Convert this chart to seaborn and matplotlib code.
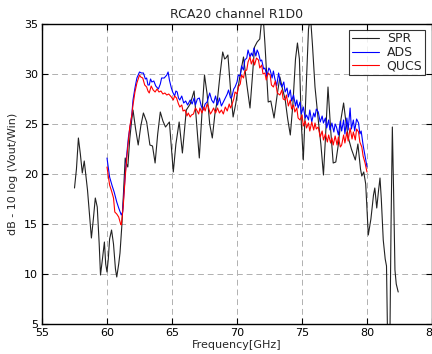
import matplotlib
matplotlib.use("Agg")
import matplotlib.pyplot as plt
import seaborn as sns
import pandas as pd

# ---- data ----
spr_freq = [57.5, 57.65, 57.8, 57.95, 58.1, 58.25, 58.5, 58.65, 58.8, 58.95, 59.1, 59.25, 59.4, 59.5, 59.65,
            59.8, 59.9, 60.0, 60.1, 60.2, 60.35, 60.5, 60.65, 60.75, 60.9, 61.0, 61.15, 61.3, 61.4, 61.5,
            61.6, 61.75, 61.9, 62.0, 62.2, 62.4, 62.6, 62.8, 63.05, 63.3, 63.5, 63.7, 63.9, 64.1, 64.3,
            64.5, 64.8, 65.1, 65.3, 65.55, 65.8, 66.1, 66.4, 66.7, 66.9, 67.1, 67.3, 67.5, 67.7, 67.9,
            68.1, 68.3, 68.5, 68.7, 68.9, 69.05, 69.15, 69.3, 69.5, 69.7, 69.9, 70.2, 70.5, 70.75, 71.0,
            71.2, 71.35, 71.55, 71.75, 71.9, 72.0, 72.15, 72.4, 72.6, 72.85, 73.1, 73.3, 73.5, 73.7, 73.9,
            74.1, 74.3, 74.5, 74.65, 74.8, 74.95, 75.1, 75.3, 75.5, 75.65, 75.8, 76.0, 76.25, 76.45, 76.65,
            76.8, 77.0, 77.2, 77.4, 77.6, 77.8, 78.0, 78.2, 78.35, 78.55, 78.8, 79.1, 79.3, 79.5, 79.6,
            79.75, 79.9, 80.1, 80.3, 80.5, 80.6, 80.75, 80.9, 81.0, 81.1, 81.25, 81.4, 81.5, 81.6, 81.75,
            81.85, 81.95, 82.05, 82.15, 82.25, 82.4]
spr_db = [18.6, 20.5, 23.6, 22.0, 20.1, 21.3, 18.4, 16.0, 13.6, 15.5, 17.6, 16.7, 13.0, 9.9, 11.5,
          13.2, 11.0, 10.2, 11.5, 13.5, 14.4, 13.0, 10.5, 9.7, 11.0, 12.1, 15.0, 19.0, 21.6, 21.0,
          20.7, 23.5, 25.4, 26.4, 24.5, 22.9, 24.8, 26.1, 25.2, 22.9, 22.8, 21.1, 24.0, 26.2, 25.3,
          24.7, 25.2, 20.2, 23.0, 25.2, 22.1, 26.4, 27.0, 28.3, 25.0, 21.6, 26.0, 29.9, 28.0, 25.0,
          23.6, 26.0, 27.5, 30.0, 32.2, 31.5, 31.6, 31.9, 28.5, 25.7, 27.0, 29.6, 31.7, 29.0, 26.6,
          30.0, 32.7, 33.2, 33.5, 35.5, 36.0, 33.0, 27.2, 27.3, 25.6, 28.0, 29.7, 28.5, 27.5, 25.5,
          23.9, 27.0, 31.5, 33.1, 31.5, 25.0, 21.4, 28.0, 34.5, 35.8, 33.0, 28.7, 25.4, 23.0, 19.9,
          23.5, 28.7, 24.5, 21.1, 21.2, 23.0, 25.5, 27.1, 25.5, 23.7, 22.5, 21.4, 23.0, 20.5, 19.8,
          20.2, 19.0, 13.9, 15.5, 17.9, 18.6, 16.6, 18.5, 19.6, 17.5, 13.4, 11.5, 10.8, 2.0, 2.0,
          15.0, 24.7, 18.0, 10.4, 9.0, 8.2]

ads_freq = [60.0, 60.2, 60.4, 60.55, 60.75, 60.9, 61.1, 61.2, 61.35, 61.5, 61.65, 61.8, 61.9, 62.0, 62.15,
            62.3, 62.5, 62.65, 62.8, 62.95, 63.05, 63.15, 63.25, 63.35, 63.45, 63.6, 63.75, 63.95, 64.1, 64.2,
            64.4, 64.6, 64.7, 64.8, 64.95, 65.05, 65.2, 65.3, 65.4, 65.5, 65.6, 65.75, 65.9, 66.05, 66.2,
            66.4, 66.55, 66.7, 66.8, 66.95, 67.1, 67.25, 67.4, 67.55, 67.7, 67.9, 68.05, 68.2, 68.35, 68.5,
            68.65, 68.8, 68.95, 69.1, 69.25, 69.35, 69.5, 69.6, 69.75, 69.85, 70.0, 70.1, 70.25, 70.35, 70.5,
            70.6, 70.75, 70.85, 71.0, 71.1, 71.2, 71.3, 71.45, 71.55, 71.65, 71.8, 71.9, 72.05, 72.15, 72.3,
            72.45, 72.55, 72.7, 72.8, 72.9, 73.05, 73.2, 73.35, 73.45, 73.6, 73.7, 73.85, 73.95, 74.1, 74.2,
            74.35, 74.5, 74.6, 74.7, 74.85, 74.95, 75.1, 75.25, 75.35, 75.5, 75.6, 75.75, 75.9, 76.0, 76.1,
            76.25, 76.4, 76.55, 76.65, 76.8, 76.9, 77.05, 77.15, 77.3, 77.45, 77.55, 77.65, 77.8, 77.95, 78.05,
            78.2, 78.3, 78.45, 78.55, 78.7, 78.8, 78.95, 79.05, 79.2, 79.35, 79.45, 79.55, 79.7, 79.85, 80.0]
ads_db = [21.6, 19.7, 18.8, 18.2, 17.2, 16.6, 15.9, 16.2, 19.0, 21.7, 23.7, 25.0, 25.8, 27.4, 28.6,
          29.6, 30.2, 30.1, 30.1, 29.5, 29.6, 28.9, 28.9, 29.5, 29.2, 29.3, 28.8, 28.5, 29.0, 29.6,
          29.6, 29.9, 30.2, 29.4, 28.6, 28.2, 27.8, 28.3, 28.2, 27.6, 27.4, 27.8, 27.1, 27.3, 26.9,
          27.4, 27.0, 27.6, 26.9, 27.5, 27.6, 26.8, 26.4, 27.0, 27.2, 28.1, 27.4, 27.1, 27.8, 26.9,
          27.6, 26.8, 27.2, 27.6, 28.0, 28.4, 27.6, 27.7, 28.5, 28.7, 29.2, 29.9, 29.8, 30.8, 30.4,
          31.4, 31.6, 32.4, 31.7, 32.1, 31.8, 32.6, 31.8, 32.4, 32.1, 31.3, 31.4, 30.5, 30.6, 29.8,
          30.6, 30.4, 29.6, 30.3, 29.6, 28.8, 30.1, 29.0, 28.7, 29.2, 28.2, 28.6, 27.7, 28.4, 27.3,
          27.9, 26.8, 27.4, 26.6, 27.2, 26.0, 26.7, 25.6, 25.9, 25.4, 26.4, 25.2, 26.1, 25.7, 26.5,
          26.2, 25.2, 25.8, 25.1, 25.6, 24.6, 25.4, 24.4, 25.1, 24.2, 25.0, 24.7, 23.9, 25.3, 24.3,
          25.4, 24.0, 25.6, 24.4, 26.6, 24.5, 25.4, 24.3, 25.5, 25.1, 24.0, 24.3, 22.9, 21.8, 20.7]

qucs_freq = [60.0, 60.2, 60.35, 60.5, 60.6, 60.75, 60.9, 61.05, 61.1, 61.25, 61.4, 61.55, 61.75, 61.9, 62.0,
             62.15, 62.3, 62.5, 62.6, 62.75, 62.9, 63.05, 63.15, 63.25, 63.4, 63.55, 63.7, 63.85, 64.0, 64.15,
             64.3, 64.45, 64.6, 64.75, 64.95, 65.1, 65.2, 65.35, 65.5, 65.6, 65.75, 65.85, 66.0, 66.15, 66.25,
             66.4, 66.5, 66.65, 66.8, 66.9, 67.05, 67.15, 67.3, 67.45, 67.55, 67.7, 67.8, 67.95, 68.05, 68.2,
             68.35, 68.5, 68.65, 68.8, 68.95, 69.1, 69.25, 69.4, 69.5, 69.6, 69.75, 69.85, 70.0, 70.1, 70.25,
             70.35, 70.5, 70.6, 70.75, 70.85, 71.0, 71.1, 71.25, 71.35, 71.5, 71.65, 71.75, 71.9, 72.0, 72.15,
             72.25, 72.4, 72.55, 72.65, 72.8, 72.95, 73.1, 73.3, 73.45, 73.55, 73.7, 73.8, 73.95, 74.1, 74.2,
             74.35, 74.45, 74.6, 74.7, 74.85, 75.0, 75.1, 75.25, 75.35, 75.5, 75.6, 75.75, 75.9, 76.0, 76.1,
             76.25, 76.4, 76.55, 76.65, 76.8, 76.95, 77.05, 77.2, 77.3, 77.4, 77.55, 77.7, 77.8, 77.95, 78.05,
             78.2, 78.3, 78.45, 78.55, 78.7, 78.85, 78.95, 79.1, 79.2, 79.35, 79.45, 79.6, 79.7, 79.85, 80.0]
qucs_db = [20.7, 18.9, 18.3, 17.6, 16.2, 16.0, 15.7, 15.0, 14.9, 16.8, 19.7, 22.0, 24.7, 25.8, 26.9,
           28.2, 29.1, 29.9, 29.7, 29.6, 28.9, 28.7, 28.3, 28.1, 28.8, 28.4, 28.2, 28.5, 28.2, 28.3,
           28.0, 28.1, 27.9, 28.0, 27.7, 27.4, 27.8, 27.6, 27.0, 26.7, 26.9, 26.3, 26.4, 25.8, 26.1,
           25.7, 25.9, 26.0, 26.6, 26.4, 26.0, 26.6, 26.1, 26.7, 26.3, 27.0, 26.7, 26.0, 26.2, 26.6,
           26.1, 26.6, 26.1, 26.4, 26.0, 26.7, 26.3, 27.0, 26.6, 26.9, 27.5, 28.2, 28.0, 28.7, 29.0,
           29.9, 29.6, 30.3, 30.4, 31.2, 31.7, 31.0, 31.5, 30.9, 31.6, 31.4, 30.6, 30.9, 30.0, 30.1,
           29.4, 30.1, 29.9, 28.9, 28.7, 29.3, 28.1, 27.9, 28.4, 27.5, 27.4, 27.9, 26.8, 27.4, 26.5,
           26.9, 26.2, 26.6, 25.6, 25.4, 25.9, 24.8, 25.3, 24.6, 25.1, 24.3, 25.2, 24.4, 25.1, 24.5,
           24.7, 23.7, 24.3, 23.4, 24.0, 23.2, 23.9, 23.1, 23.6, 22.9, 23.8, 22.9, 23.7, 22.7, 22.9,
           23.9, 23.1, 24.2, 23.3, 24.6, 23.5, 24.2, 23.4, 24.5, 24.2, 23.2, 22.7, 21.8, 21.1, 20.2]

series_names = ["SPR", "ADS", "QUCS"]
series_colors = {"SPR": "#222222", "ADS": "#0000ff", "QUCS": "#ff0000"}
title = "RCA20 channel R1D0"
xlabel = "Frequency[GHz]"
ylabel = "dB - 10 log (Vout/Win)"
x_ticks = [55, 60, 65, 70, 75, 80, 85]
y_ticks = [5, 10, 15, 20, 25, 30, 35]

df = pd.concat([
    pd.DataFrame({"freq": spr_freq, "db": spr_db, "series": "SPR", "order": range(len(spr_freq))}),
    pd.DataFrame({"freq": ads_freq, "db": ads_db, "series": "ADS", "order": range(len(ads_freq))}),
    pd.DataFrame({"freq": qucs_freq, "db": qucs_db, "series": "QUCS", "order": range(len(qucs_freq))}),
], ignore_index=True)

sns.set_style("white")
plt.rcParams["font.family"] = ["DejaVu Sans"]

fig = plt.figure(figsize=(4.32, 3.54), dpi=100)
ax = fig.add_axes([42 / 432, 30 / 354, 390 / 432, 300 / 354])

sns.lineplot(data=df, x="freq", y="db", hue="series", hue_order=series_names,
             palette=series_colors, estimator=None, sort=False, linewidth=0.8, ax=ax)

ax.set_xlim(55, 85)
ax.set_ylim(5, 35)
ax.set_xticks(x_ticks)
ax.set_yticks(y_ticks)
ax.tick_params(labelsize=8, direction="in", length=4, width=0.8, colors="black",
               top=True, right=True, bottom=True, left=True, pad=3)
ax.grid(True, linestyle=(0, (6, 4)), color="#b0b0b0", linewidth=0.7)
for s in ax.spines.values():
    s.set_visible(True)
    s.set_color("black")
    s.set_linewidth(1.0)

ax.set_title(title, fontsize=9, pad=4)
ax.set_xlabel(xlabel, fontsize=8, labelpad=1)
ax.set_ylabel(ylabel, fontsize=8, labelpad=4)

leg = ax.legend(loc="upper right", fontsize=9, frameon=True, fancybox=False,
                edgecolor="black", handlelength=2.2, borderpad=0.2, labelspacing=0.05,
                handletextpad=0.6, borderaxespad=0, bbox_to_anchor=(0.982, 0.98))
leg.get_frame().set_linewidth(0.8)
for line in leg.get_lines():
    line.set_linewidth(0.8)

fig.savefig("out.png", dpi=100)
